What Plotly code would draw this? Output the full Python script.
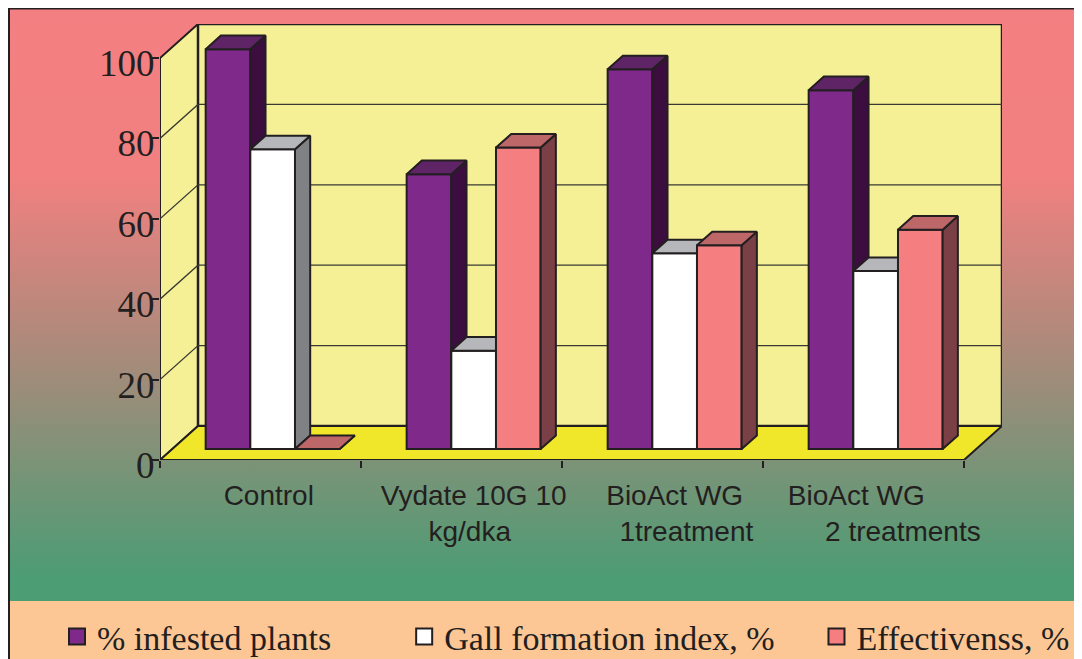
import plotly.graph_objects as go

# ---------------- data ----------------
categories = ["Control", "Vydate 10G 10<br>kg/dka", "BioAct WG<br>1treatment", "BioAct WG<br>2 treatments"]
series_names = ["% infested plants", "Gall formation index, %", "Effectivenss, %"]
infested = [99.5, 68.4, 94.5, 89.3]
gall_index = [74.6, 24.5, 48.7, 44.3]
effectiveness = [0.0, 75.0, 50.7, 54.6]
y_ticks = [0, 20, 40, 60, 80, 100]
y_max = 100

# ---------------- style ----------------
PAGE_W, PAGE_H, OFF = 1082, 659, 8        # page has an 8px body margin
W, H = PAGE_W - OFF, PAGE_H - OFF         # figure size
INK = "#231F20"
front_colors = ["#7F2A8B", "#FFFFFF", "#F47E80"]
top_colors = ["#5E2466", "#B6B7BB", "#BE6769"]
side_colors = ["#3C0E40", "#808185", "#7A4045"]
WALL = "#F5F096"
FLOOR = "#F0E62A"
PEACH = "#FCC795"
PINK_BG = "#F47F82"
GREEN_BG = "#4C9C74"

# pixel geometry of the pseudo-3D box (page pixels)
X0_PX, CAT_PX, Y0_PX, UNIT_PX = 160, 201, 460, 4.02
DEPTH_DX_PX, DEPTH_DY_PX = 38, 34
n_cat = len(categories)
dX = DEPTH_DX_PX / CAT_PX          # depth offset in category units
dY = DEPTH_DY_PX / UNIT_PX         # depth offset in value units
BAR_FRONT = 0.32                   # depth fraction of bar front plane
BAR_DEPTH = 0.40                   # depth fraction of bar thickness
BAR_W = (1 - 1 / 3) / 3            # bar width in category units

x_hi = n_cat + dX
y_hi = y_max + dY
fx0 = X0_PX - OFF
fy0 = Y0_PX - OFF
x_dom = [fx0 / W, (fx0 + CAT_PX * x_hi) / W]
y_dom = [(H - fy0) / H, (H - fy0 + UNIT_PX * y_hi) / H]

fig = go.Figure()

# ---------------- background (figure-pixel axes) ----------------
bg_bot = 601 - OFF
fig.add_trace(go.Scatter(
    x=[0, W, W, 0, 0], y=[0, 0, bg_bot, bg_bot, 0],
    fill="toself", mode="none", hoverinfo="skip", showlegend=False,
    fillgradient=dict(type="vertical", start=0, stop=bg_bot,
                      colorscale=[[0, PINK_BG], [0.28, "#F28080"], [0.62, "#A08C7A"],
                                  [0.96, GREEN_BG], [1, GREEN_BG]]),
    xaxis="x", yaxis="y"))
fig.add_trace(go.Scatter(
    x=[0, W, W, 0, 0], y=[bg_bot, bg_bot, H, H, bg_bot],
    fill="toself", mode="none", fillcolor=PEACH, hoverinfo="skip", showlegend=False,
    xaxis="x", yaxis="y"))

# ---------------- walls, floor, grid ----------------
def poly(xs, ys, fill, lw=2, z=0, color=INK):
    fig.add_trace(go.Scatter(x=xs, y=ys, fill="toself", fillcolor=fill, mode="lines",
                             line=dict(color=color, width=lw), hoverinfo="skip",
                             showlegend=False, xaxis="x2", yaxis="y2", zorder=z))

poly([0, dX, dX, 0, 0], [0, dY, y_max + dY, y_max, 0], WALL)
poly([dX, n_cat + dX, n_cat + dX, dX, dX], [dY, dY, y_max + dY, y_max + dY, dY], WALL, lw=2.5)
poly([0, n_cat, n_cat + dX, dX, 0], [0, 0, dY, dY, 0], FLOOR)

gx, gy = [], []
for v in y_ticks[1:-1]:
    gx += [0, dX, n_cat + dX, None]
    gy += [v, v + dY, v + dY, None]
fig.add_trace(go.Scatter(x=gx, y=gy, mode="lines", line=dict(color="#3A3833", width=1.3),
                         hoverinfo="skip", showlegend=False, xaxis="x2", yaxis="y2", zorder=0))

# ---------------- bars ----------------
series_values = [infested, gall_index, effectiveness]
base = dY * BAR_FRONT
ddx, ddy = dX * BAR_DEPTH, dY * BAR_DEPTH
centers = [i + 0.5 + dX * BAR_FRONT for i in range(n_cat)]

for s, vals in enumerate(series_values):
    z = s + 1
    offset = (s - 1.5) * BAR_W
    sx, sy, tx, ty = [], [], [], []
    for c, v in zip(centers, vals):
        x0 = c + offset
        x1 = x0 + BAR_W
        top = base + v
        sx += [x1, x1 + ddx, x1 + ddx, x1, x1, None]
        sy += [base, base + ddy, top + ddy, top, base, None]
        tx += [x0, x1, x1 + ddx, x0 + ddx, x0, None]
        ty += [top, top, top + ddy, top + ddy, top, None]
    fig.add_trace(go.Scatter(x=sx, y=sy, fill="toself", fillcolor=side_colors[s], mode="lines",
                             line=dict(color=INK, width=2), hoverinfo="skip", showlegend=False,
                             xaxis="x2", yaxis="y2", zorder=z))
    fig.add_trace(go.Scatter(x=tx, y=ty, fill="toself", fillcolor=top_colors[s], mode="lines",
                             line=dict(color=INK, width=2), hoverinfo="skip", showlegend=False,
                             xaxis="x2", yaxis="y2", zorder=z))
    fig.add_trace(go.Bar(x=centers, y=vals, base=base, width=BAR_W, offset=offset,
                         marker=dict(color=front_colors[s], line=dict(color=INK, width=2)),
                         name=series_names[s], showlegend=False, hoverinfo="skip",
                         xaxis="x2", yaxis="y2", zorder=z))

# legend proxies (bigger squares than bar legend glyphs)
legend_pad = ["\u00a0" * 8, "\u00a0" * 4 + "\u200a", ""]
for s in range(3):
    fig.add_trace(go.Scatter(x=[None], y=[None], mode="markers",
                             marker=dict(symbol="square", size=16, color=front_colors[s],
                                         line=dict(color=INK, width=2)),
                             name=series_names[s] + legend_pad[s],
                             xaxis="x2", yaxis="y2"))

# ---------------- category labels (nbsp padding shifts lines) ----------------
NB = "\u00a0"
label_pad = [[(0, 1)], [(0, 0), (0, 1)], [(0, 0), (3, 0)], [(0, 5), (7, 0)]]
ticktext = []
for lab, pads in zip(categories, label_pad):
    lines = lab.split("<br>")
    ticktext.append("<br>".join(NB * l + t + NB * r for t, (l, r) in zip(lines, pads)))

fig.update_layout(
    width=W, height=H, margin=dict(l=0, r=0, t=0, b=0, autoexpand=False),
    paper_bgcolor="white", plot_bgcolor="rgba(0,0,0,0)",
    barmode="overlay", showlegend=True,
    xaxis=dict(domain=[0, 1], range=[0, W], visible=False, fixedrange=True),
    yaxis=dict(domain=[0, 1], range=[H, 0], visible=False, fixedrange=True),
    xaxis2=dict(domain=x_dom, range=[0, x_hi], anchor="y2", showgrid=False, zeroline=False,
                showline=False, tickvals=centers, ticktext=ticktext, ticks="",
                tickfont=dict(family="Liberation Sans", size=28, color=INK),
                ticklabelstandoff=16,
                minor=dict(tickvals=list(range(n_cat + 1)), ticks="outside", ticklen=7,
                           tickwidth=1.5, tickcolor=INK)),
    yaxis2=dict(domain=y_dom, range=[0, y_hi], anchor="x2", showgrid=False, zeroline=False,
                showline=False, tickvals=y_ticks, ticks="outside", ticklen=7, tickwidth=1.5,
                tickcolor=INK, ticklabelstandoff=-10, ticklabelshift=5,
                tickfont=dict(family="Liberation Serif", size=37, color=INK)),
    legend=dict(orientation="h", x=(57 - OFF) / W, xanchor="left", y=(H - (637 - OFF)) / H,
                yanchor="middle",
                font=dict(family="Liberation Serif", size=34, color=INK),
                bgcolor="rgba(0,0,0,0)", itemclick=False, itemdoubleclick=False),
    shapes=[
        dict(type="line", xref="x", yref="y", x0=1, y0=0, x1=1, y1=H,
             line=dict(color=INK, width=2)),
        dict(type="line", xref="x", yref="y", x0=0, y0=0.5, x1=W, y1=0.5,
             line=dict(color=INK, width=2)),
    ],
)

fig.write_html("out.html")
